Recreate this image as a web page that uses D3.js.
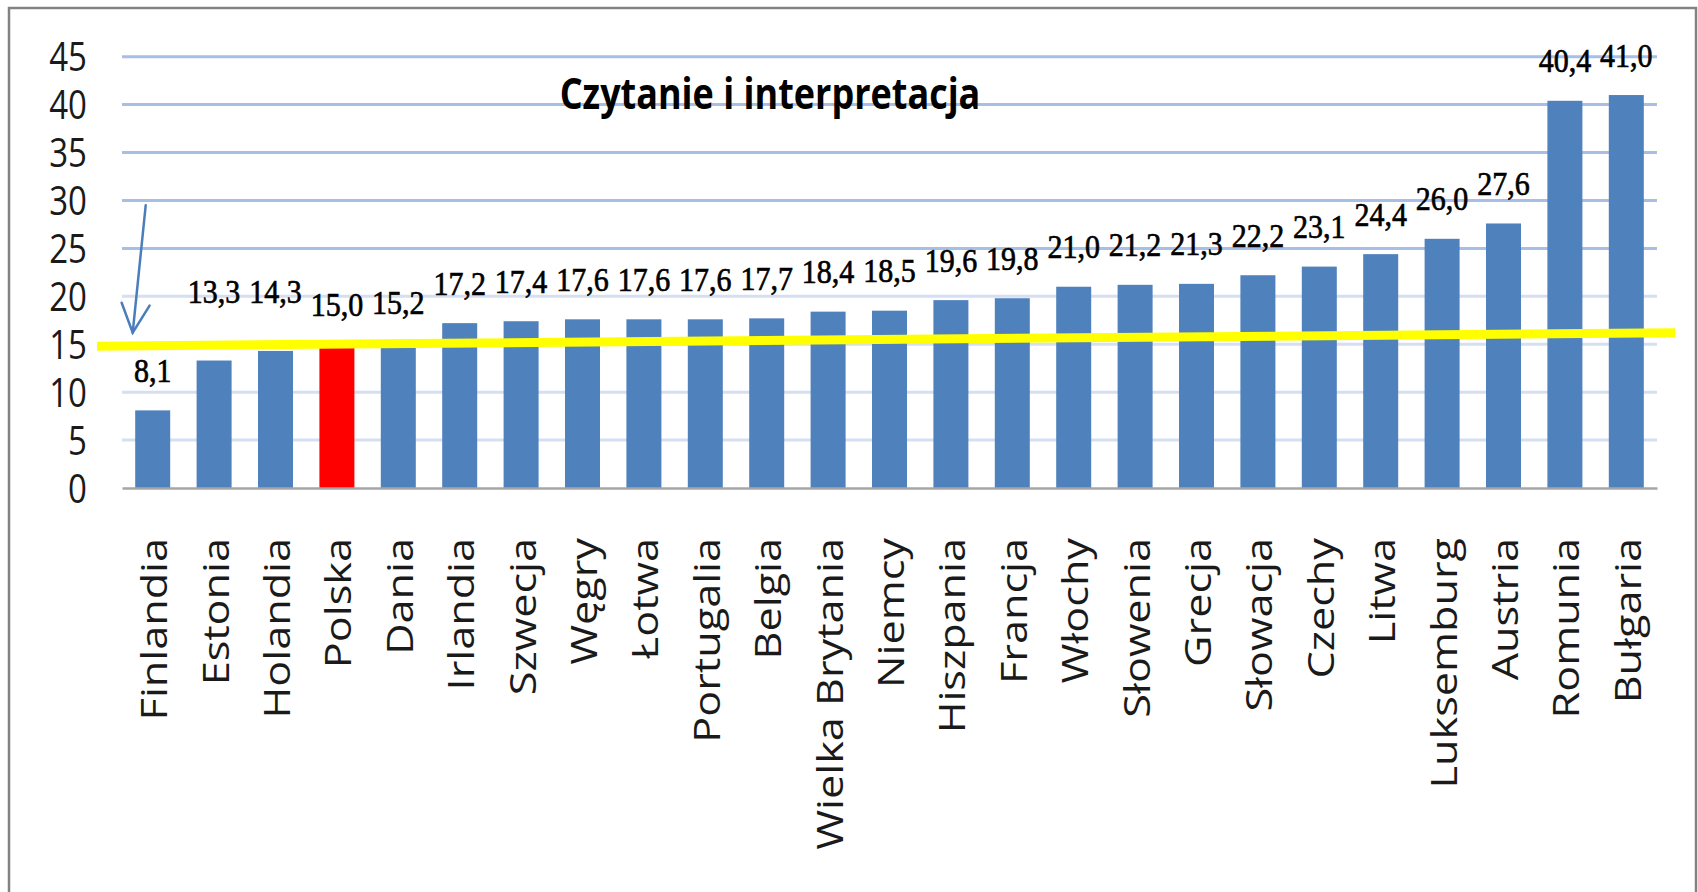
<!DOCTYPE html>
<html>
<head>
<meta charset="utf-8">
<script src="https://cdn.jsdelivr.net/npm/d3@7"></script>
<style>
  html, body { margin: 0; padding: 0; background: #fff; }
  svg { display: block; }
</style>
</head>
<body>
<svg id="chart"></svg>
<script>
const categories = ['Finlandia', 'Estonia', 'Holandia', 'Polska', 'Dania', 'Irlandia', 'Szwecja', 'Węgry',
  'Łotwa', 'Portugalia', 'Belgia', 'Wielka Brytania', 'Niemcy', 'Hiszpania', 'Francja', 'Włochy',
  'Słowenia', 'Grecja', 'Słowacja', 'Czechy', 'Litwa', 'Luksemburg', 'Austria', 'Romunia', 'Bułgaria'];
const values = [8.1, 13.3, 14.3, 15.0, 15.2, 17.2, 17.4, 17.6, 17.6, 17.6, 17.7, 18.4, 18.5, 19.6,
  19.8, 21.0, 21.2, 21.3, 22.2, 23.1, 24.4, 26.0, 27.6, 40.4, 41.0];
const yTicks = [0, 5, 10, 15, 20, 25, 30, 35, 40, 45];
const highlighted = ['Polska'];
// hand drawn yellow line: value at left end, value at right end
const refLine = [14.8, 16.2];
// hand drawn arrow: from value, to value
const arrowValues = [29.5, 16.2];
const title = 'Czytanie i interpretacja';

const width = 1698, height = 892;
const plotLeft = 122, plotRight = 1657, plotTop = 56.7, plotBottom = 488;

const svg = d3.select('svg#chart')
  .attr('width', width)
  .attr('height', height);

// outer frame (bottom edge is cut off in the original)
svg.append('rect')
  .attr('x', 9).attr('y', 8)
  .attr('width', 1687).attr('height', 920)
  .attr('fill', '#fff')
  .attr('stroke', '#828282')
  .attr('stroke-width', 2.5);

const x = d3.scaleBand()
  .domain(categories)
  .range([plotLeft, plotRight])
  .paddingInner(0.43)
  .paddingOuter(0.215);

const y = d3.scaleLinear()
  .domain([0, 45])
  .range([plotBottom, plotTop]);

const fmt = d3.formatLocale({decimal: ',', thousands: ' ', grouping: [3], currency: ['', '']}).format('.1f');

// gridlines
svg.append('g')
  .selectAll('line')
  .data(yTicks.filter(d => d > 0))
  .join('line')
  .attr('x1', plotLeft)
  .attr('x2', plotRight)
  .attr('y1', d => y(d))
  .attr('y2', d => y(d))
  .attr('stroke', d => d >= 25 ? '#a7bee6' : '#d5dff2')
  .attr('stroke-width', 3);

// y axis
const yAxis = svg.append('g')
  .attr('transform', 'translate(' + plotLeft + ',0)')
  .call(d3.axisLeft(y).tickValues(yTicks).tickSize(0).tickPadding(35));
yAxis.select('.domain').remove();
yAxis.selectAll('text')
  .attr('font-family', 'Open Sans, sans-serif')
  .attr('font-size', '33px')
  .attr('fill', '#1a1a1a')
  .attr('dy', '0.36em')
  .attr('transform', 'scale(1,1.19)');

// bars
svg.append('g')
  .selectAll('rect')
  .data(categories)
  .join('rect')
  .attr('x', d => x(d))
  .attr('y', (d, i) => y(values[i]))
  .attr('width', x.bandwidth())
  .attr('height', (d, i) => plotBottom - y(values[i]))
  .attr('fill', d => highlighted.includes(d) ? '#ff0000' : '#4f81bd');

// x axis
const xAxis = svg.append('g')
  .attr('transform', 'translate(0,' + plotBottom + ')')
  .call(d3.axisBottom(x).tickSize(0).tickSizeOuter(0).tickPadding(0));
xAxis.select('.domain')
  .attr('stroke', '#a6a6a6')
  .attr('stroke-width', 2.5);
xAxis.selectAll('text')
  .attr('x', 0)
  .attr('y', 0)
  .attr('dy', '0.4em')
  .attr('text-anchor', 'end')
  .attr('font-family', 'Open Sans, sans-serif')
  .attr('font-size', '36px')
  .attr('fill', '#1a1a1a')
  .attr('transform', 'translate(0,50) rotate(-90) scale(1.2,1)');

// yellow line
svg.append('line')
  .attr('x1', plotLeft - 25)
  .attr('x2', plotRight + 18)
  .attr('y1', y(refLine[0]))
  .attr('y2', y(refLine[1]))
  .attr('stroke', '#ffff00')
  .attr('stroke-width', 9);

// data labels (Excel pushed the two below the yellow line upwards)
const labelNudge = {Estonia: -29, Holandia: -19};
svg.append('g')
  .selectAll('text')
  .data(categories)
  .join('text')
  .attr('transform', (d, i) => 'translate(' + (x(d) + x.bandwidth() / 2) + ',' +
    (y(values[i]) - 28.5 + (labelNudge[d] || 0)) + ') scale(1,1.15)')
  .attr('text-anchor', 'middle')
  .attr('font-family', 'Liberation Serif, serif')
  .attr('font-size', '30px')
  .attr('fill', '#000')
  .attr('stroke', '#000')
  .attr('stroke-width', 0.6)
  .text((d, i) => fmt(values[i]));

// arrow pointing at the line
const cx = x(categories[0]) + x.bandwidth() / 2;
const ax0 = cx - 7, ay0 = y(arrowValues[0]);
const ax1 = cx - 20, ay1 = y(arrowValues[1]);
const ang = Math.atan2(ay0 - ay1, ax0 - ax1);
const headLen = 32, headAng = 26 * Math.PI / 180;
const arrow = svg.append('g')
  .attr('stroke', '#4a7ebb')
  .attr('stroke-width', 2.5)
  .attr('fill', 'none')
  .attr('stroke-linecap', 'round');
arrow.append('line')
  .attr('x1', ax0).attr('y1', ay0)
  .attr('x2', ax1).attr('y2', ay1);
arrow.append('path')
  .attr('d', d3.line()([
    [ax1 + headLen * Math.cos(ang + headAng), ay1 + headLen * Math.sin(ang + headAng)],
    [ax1, ay1],
    [ax1 + headLen * Math.cos(ang - headAng), ay1 + headLen * Math.sin(ang - headAng)]
  ]));

// title
svg.append('text')
  .attr('transform', 'translate(770,109) scale(1,1.2)')
  .attr('text-anchor', 'middle')
  .attr('font-family', 'Open Sans, sans-serif')
  .attr('font-weight', 'bold')
  .attr('font-size', '36px')
  .attr('fill', '#000')
  .text(title);
</script>
</body>
</html>
